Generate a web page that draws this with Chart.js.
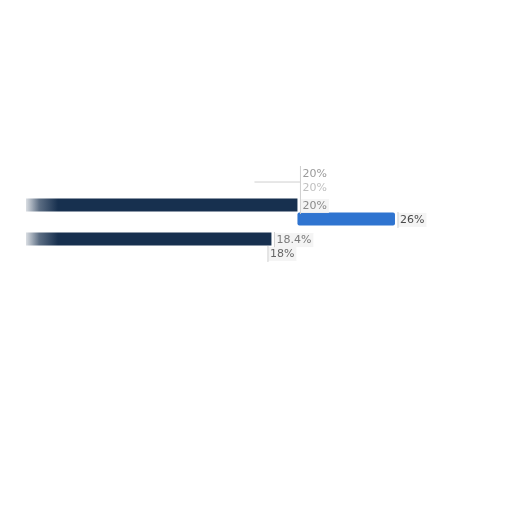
<!DOCTYPE html>
<html>
<head>
<meta charset="utf-8">
<script src="https://cdn.jsdelivr.net/npm/chart.js@4/dist/chart.umd.min.js"></script>
<style>
  html, body { margin: 0; padding: 0; background: #fff; }
  #wrap { width: 512px; height: 512px; }
</style>
</head>
<body>
<div id="wrap"><canvas id="grafico"></canvas></div>
<script>
const categorias = ['A', 'B'];
const valoresOscuro = [20, 18.4];
// tramo azul flotante: empieza donde acaba la barra oscura
const valoresAzul = [[20, 26], [18, 18]];
const etiquetasOscuro = ['20%', '18.4%'];
const etiquetasAzul = ['26%', '18%'];

// degradado suave en el inicio de las barras oscuras
function rellenoOscuro(context) {
  const area = context.chart.chartArea;
  if (!area) return '#17304f';
  const g = context.chart.ctx.createLinearGradient(area.left - 2, 0, area.left + 32, 0);
  g.addColorStop(0, 'rgba(23,48,79,0.08)');
  g.addColorStop(0.45, 'rgba(23,48,79,0.7)');
  g.addColorStop(1, 'rgba(23,48,79,1)');
  return g;
}

// etiquetas de porcentaje al final de cada barra
const etiquetasPlugin = {
  id: 'etiquetas',
  afterDatasetsDraw(chart) {
    const ctx = chart.ctx;
    ctx.save();
    ctx.font = '11px "DejaVu Sans", sans-serif';
    ctx.textBaseline = 'middle';
    chart.data.datasets.forEach((ds, i) => {
      const meta = chart.getDatasetMeta(i);
      meta.data.forEach((bar, j) => {
        const txt = ds.etiquetas[j];
        const x = bar.x + 5;
        const y = bar.y + 1;
        const w = ctx.measureText(txt).width;
        ctx.fillStyle = 'rgba(243,243,243,0.9)';
        ctx.fillRect(x - 2, y - 7, w + 4, 14);
        ctx.strokeStyle = '#d0d0d0';
        ctx.beginPath();
        ctx.moveTo(x - 2, y - 8);
        ctx.lineTo(x - 2, y + 8);
        ctx.stroke();
        ctx.fillStyle = ds.colorTexto[j];
        ctx.fillText(txt, x, y);
        // copias tenues del primer rótulo oscuro
        if (i === 0 && j === 0) {
          ctx.fillStyle = '#c0c0c0';
          ctx.fillText(txt, x, y - 18);
          ctx.fillStyle = '#9a9a9a';
          ctx.fillText(txt, x, y - 32);
          ctx.strokeStyle = '#cfcfcf';
          ctx.beginPath();
          ctx.moveTo(x - 2, y - 40);
          ctx.lineTo(x - 2, y - 8);
          ctx.moveTo(x - 48, y - 24);
          ctx.lineTo(x - 2, y - 24);
          ctx.stroke();
        }
      });
    });
    ctx.restore();
  }
};

new Chart(document.getElementById('grafico').getContext('2d'), {
  type: 'bar',
  data: {
    labels: categorias,
    datasets: [{
      data: valoresOscuro,
      etiquetas: etiquetasOscuro,
      colorTexto: ['#8a8a8a', '#7a7a7a'],
      backgroundColor: rellenoOscuro,
      categoryPercentage: 0.82,
      barPercentage: 0.92
    }, {
      data: valoresAzul,
      etiquetas: etiquetasAzul,
      colorTexto: ['#4a4a4a', '#666'],
      backgroundColor: ['#2f74d0', 'rgba(0,0,0,0)'],
      borderRadius: 2,
      borderSkipped: false,
      categoryPercentage: 0.82,
      barPercentage: 0.92
    }]
  },
  options: {
    indexAxis: 'y',
    responsive: true,
    maintainAspectRatio: false,
    animation: false,
    layout: {
      padding: { top: 195, bottom: 249, left: 26, right: 52 }
    },
    scales: {
      x: { display: false, min: 3.3, max: 30 },
      y: { display: false }
    },
    plugins: {
      legend: { display: false },
      tooltip: { enabled: false }
    }
  },
  plugins: [etiquetasPlugin]
});
</script>
</body>
</html>
